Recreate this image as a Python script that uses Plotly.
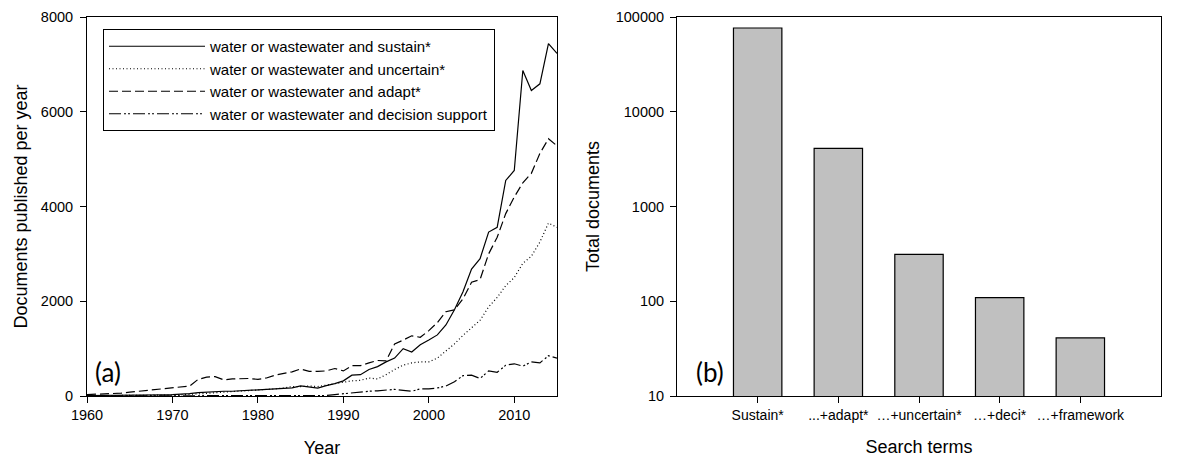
import plotly.graph_objects as go

# ---------------- data ----------------
years = list(range(1960, 2016))

sustain = [10, 10, 10, 12, 15, 15, 18, 20, 22, 25,
           30, 35, 50, 70, 80, 100, 100, 100, 110, 120,
           125, 130, 150, 145, 170, 215, 190, 165, 220, 260,
           320, 440, 450, 560, 620, 720, 800, 1000, 930, 1080,
           1180, 1290, 1500, 1820, 2200, 2680, 2900, 3460, 3560, 4550,
           4760, 6870, 6450, 6590, 7440, 7230]

uncertain = [5, 5, 6, 6, 8, 8, 10, 10, 12, 15,
             20, 25, 30, 40, 55, 70, 80, 90, 100, 110,
             120, 130, 150, 170, 200, 200, 210, 200, 230, 260,
             290, 320, 330, 380, 360, 450, 560, 650, 700, 720,
             720, 800, 950, 1100, 1280, 1450, 1600, 1880, 2080, 2330,
             2500, 2800, 2950, 3250, 3650, 3560]

adapt = [30, 35, 40, 50, 60, 80, 100, 110, 130, 150,
         170, 190, 210, 350, 400, 410, 340, 360, 370, 370,
         350, 380, 440, 470, 510, 570, 520, 520, 530, 580,
         530, 640, 640, 700, 750, 740, 1100, 1180, 1270, 1240,
         1380, 1550, 1780, 1820, 2050, 2400, 2460, 3000, 3350, 3850,
         4200, 4500, 4700, 5120, 5430, 5280]

decision = [2, 2, 2, 2, 3, 3, 3, 3, 4, 4,
            4, 5, 5, 5, 6, 8, 8, 8, 8, 8,
            8, 8, 8, 8, 8, 8, 8, 8, 10, 30,
            50, 70, 80, 100, 110, 120, 140, 120, 100, 150,
            150, 170, 210, 300, 430, 440, 370, 530, 500, 650,
            680, 630, 720, 700, 850, 800]

series_names = ["water or wastewater and sustain*",
                "water or wastewater and uncertain*",
                "water or wastewater and adapt*",
                "water or wastewater and decision support"]

terms = ["Sustain*", "...+adapt*", "\u2026+uncertain*", "\u2026+deci*", "\u2026+framework"]
totals = [76500, 4100, 312, 109, 41]

left_yticks = [0, 2000, 4000, 6000, 8000]
left_xticks = [1960, 1970, 1980, 1990, 2000, 2010]
log_ticks = [10, 100, 1000, 10000, 100000]
log_ticktext = ["10", "100", "1000", "10000", "100000"]

# ---------------- figure ----------------
W, H = 1184, 461
L, R, T, B = 87, 1161, 17, 396   # plot-area box in pixels
FONT = "Arial, Liberation Sans, sans-serif"

def px_x(p):
    return (p - L) / (R - L)

def px_y(p):
    return 1 - (p - T) / (B - T)

fig = go.Figure()

dashes = ["solid", "1px,2.5px", "9px,4px", "12px,3px,2px,2px,2px,3px"]
for name, vals, dash in zip(series_names, [sustain, uncertain, adapt, decision], dashes):
    fig.add_trace(go.Scatter(
        x=years, y=vals, mode="lines", name=name,
        line=dict(color="black", width=1.2, dash=dash),
        xaxis="x", yaxis="y"))

fig.add_trace(go.Bar(
    x=terms, y=totals, width=0.6, showlegend=False,
    marker=dict(color="#c0c0c0", line=dict(color="black", width=1.2)),
    xaxis="x2", yaxis="y2"))

axis_common = dict(showline=True, mirror=True, linecolor="black", linewidth=1,
                   ticks="outside", ticklen=6, tickwidth=1, tickcolor="black",
                   showgrid=False, zeroline=False, automargin=False,
                   tickfont=dict(family=FONT, size=14.5, color="black"))

title_font = dict(family=FONT, size=18, color="black")

fig.update_layout(
    width=W, height=H,
    margin=dict(l=L, r=W - R, t=T, b=H - B, pad=0),
    paper_bgcolor="white", plot_bgcolor="white",
    font=dict(family=FONT, color="black"),
    xaxis=dict(domain=[0, px_x(557)], range=[1960, 2015],
               tickvals=left_xticks, anchor="y",
               title=dict(text="Year", font=title_font, standoff=18),
               **axis_common),
    yaxis=dict(domain=[0, 1], range=[0, 8000],
               tickvals=left_yticks, anchor="x", ticklabelstandoff=4,
               title=dict(text="Documents published per year", font=title_font, standoff=8),
               **axis_common),
    xaxis2=dict(domain=[px_x(677), 1], type="category", range=[-1, 5],
                anchor="y2", tickangle=0,
                title=dict(text="Search terms", font=title_font, standoff=18),
                **{**axis_common, "tickfont": dict(family=FONT, size=14, color="black")}),
    yaxis2=dict(domain=[0, 1], type="log", range=[1, 5],
                tickvals=log_ticks, ticktext=log_ticktext, anchor="x2", ticklabelstandoff=3,
                title=dict(text="Total documents", font=title_font, standoff=11),
                **axis_common),
    legend=dict(x=px_x(103), y=px_y(29), xanchor="left", yanchor="top",
                bordercolor="black", borderwidth=1, bgcolor="white",
                itemwidth=96, font=dict(family=FONT, size=15, color="black"),
                tracegroupgap=0),
    showlegend=True,
    annotations=[
        dict(text="(a)", x=px_x(108), y=px_y(372), xref="paper", yref="paper",
             xanchor="center", yanchor="middle",
             showarrow=False, font=dict(family="Lato, Noto Sans, sans-serif", size=26, color="black")),
        dict(text="(b)", x=px_x(710), y=px_y(372), xref="paper", yref="paper",
             xanchor="center", yanchor="middle",
             showarrow=False, font=dict(family="Lato, Noto Sans, sans-serif", size=26, color="black")),
    ],
)

fig.write_html("out.html", config={"displayModeBar": False},
               post_script="document.body.style.margin='0';document.body.style.overflow='hidden';")
